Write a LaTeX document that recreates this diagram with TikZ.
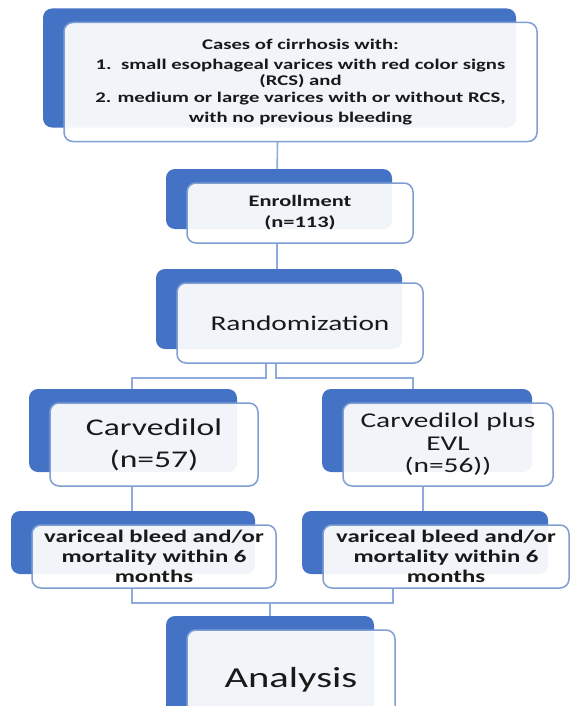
\documentclass[tikz,border=0pt]{standalone}
\usepackage{fontspec}
\setmainfont{Carlito}[FakeStretch=1.4]
\usetikzlibrary{positioning,shadows,backgrounds}

\definecolor{cardblue}{HTML}{4472C4}
\definecolor{cardline}{HTML}{7F9FD3}
\definecolor{linkblue}{HTML}{8FAADC}

\begin{document}
\begin{tikzpicture}[x=1pt, y=-1pt,
    card/.style={draw=cardline, line width=1.5pt, fill=white, fill opacity=0.93, text opacity=1,
        rounded corners=9pt, align=center, inner sep=2pt, text=black!90,
        general shadow={fill=cardblue, fill opacity=1, draw=none, shadow xshift=-21pt, shadow yshift=14pt}},
    link/.style={draw=linkblue, line width=1.6pt},
]
\path[use as bounding box] (0,0) rectangle (570,706);
\clip (0,0) rectangle (570,706);

% Boxes
\node[card, minimum width=473pt, minimum height=119pt, font=\fontsize{14.8}{20}\selectfont\bfseries] (cases) at (300.5, 82)
    {Cases of cirrhosis with:\\
     1.\ \ small esophageal varices with red color signs\\[-4pt]
     (RCS) and\\[-3pt]
     2. medium or large varices with or without RCS,\\
     with no previous bleeding};
\node[card, minimum width=226pt, minimum height=60pt, font=\fontsize{16}{21}\selectfont\bfseries] (enrol) at (300, 213)
    {Enrollment\\(n=113)};
\node[card, minimum width=246pt, minimum height=80pt, font=\fontsize{21}{25}\selectfont] (rand) at (300, 323)
    {Randomization};
\node[card, minimum width=208pt, minimum height=83pt, font=\fontsize{24}{32}\selectfont] (carv) at (154, 444.5)
    {Carvedilol\\(n=57)};
\node[card, minimum width=210pt, minimum height=83pt, font=\fontsize{21}{22.5}\selectfont] (carvevl) at (448, 444.5)
    {Carvedilol plus\\EVL\\(n=56))};
\node[card, minimum width=244pt, minimum height=63pt, font=\fontsize{17.7}{20}\selectfont\bfseries] (outL) at (154, 556.5)
    {variceal bleed and/or\\mortality within 6\\months};
\node[card, minimum width=246pt, minimum height=63pt, font=\fontsize{17.7}{20}\selectfont\bfseries] (outR) at (446, 556.5)
    {variceal bleed and/or\\mortality within 6\\months};
\node[card, minimum width=208pt, minimum height=100pt, font=\fontsize{29}{34}\selectfont] (analysis) at (291, 680)
    {Analysis};

% Connectors
\begin{scope}[on background layer]
\draw[link] ([xshift=-23pt]cases.south) -- ([xshift=-23pt]enrol.north);
\draw[link] ([xshift=-23pt]enrol.south) -- ([xshift=-23pt]rand.north);
\draw[link] ([xshift=-34pt]rand.south) -- ++(0,14) -| ([xshift=-22pt]carv.north);
\draw[link] ([xshift=-24pt]rand.south) -- ++(0,14) -| ([xshift=-35pt]carvevl.north);
\draw[link] ([xshift=-22pt]carv.south) -- ([xshift=-22pt]outL.north);
\draw[link] ([xshift=-25pt]carvevl.south) -- ([xshift=-23pt]outR.north);
\draw[link] ([xshift=-22pt]outL.south) -- ++(0,14) -| ([xshift=-21pt]analysis.north);
\draw[link] ([xshift=-53pt]outR.south) -- ++(0,14) -| ([xshift=-21pt]analysis.north);
\end{scope}
\end{tikzpicture}
\end{document}
